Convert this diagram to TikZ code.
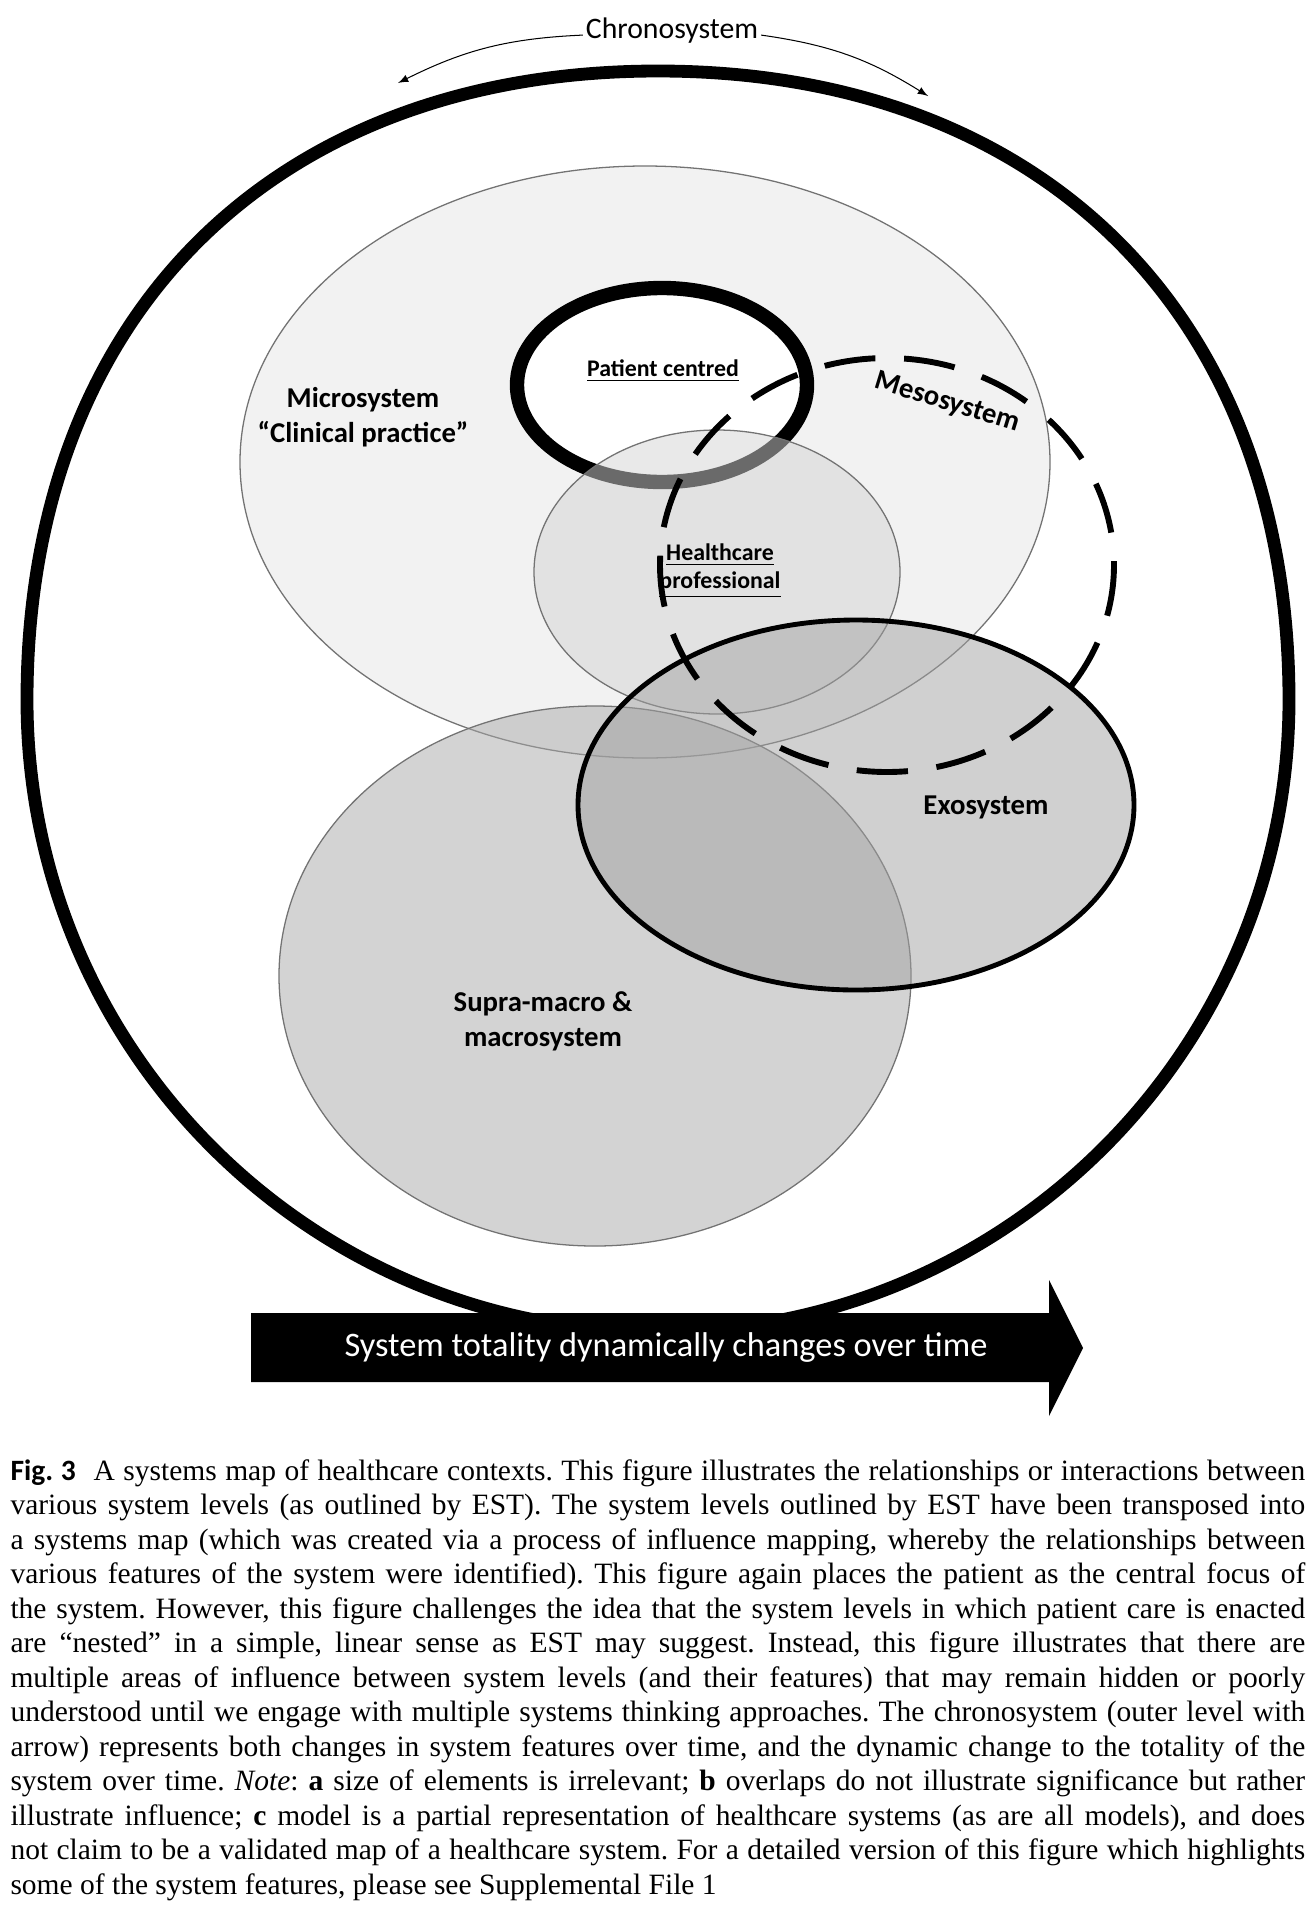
\documentclass[tikz,border=0pt]{standalone}
\usepackage{fontspec}
\setmainfont{Liberation Serif}
\setsansfont{Carlito}
\usetikzlibrary{arrows}

\tikzset{
  zone/.style={draw=black!55, line width=0.5pt, fill opacity=0.5},
  lbl/.style={font=\sffamily\bfseries\fontsize{11.2}{13.6}\selectfont, align=center, inner sep=1pt},
  core/.style={font=\sffamily\bfseries\fontsize{9.3}{10.9}\selectfont, align=center, inner sep=1pt},
}

\begin{document}
\begin{tikzpicture}[x=0.013699cm, y=-0.013699cm]
  \useasboundingbox (0,0) rectangle (1314,1908);
%  \draw[help lines, step=100] (0,0) grid (1314,1908);

  % chronosystem (outer level)
  \draw[line width=5pt, line join=round] (27,700) .. controls (27,316) and (273,71) .. (658,71)
     .. controls (1043,71) and (1289,316) .. (1289,700)
     .. controls (1289,1049) and (1007,1332) .. (658,1332)
     .. controls (309,1332) and (27,1049) .. cycle;

  \filldraw[zone, fill=black!10] (645,462) ellipse [x radius=405, y radius=296];
  \draw[line width=5.6pt, fill=white] (662,385) ellipse [x radius=145, y radius=97];
  \filldraw[zone, fill=black!17] (717,572) ellipse [x radius=183, y radius=142];
  \filldraw[zone, fill=black!34] (595,976) ellipse [x radius=316, y radius=270];
  \filldraw[zone, fill=black!37, draw=black, line width=1.9pt] (856,805) ellipse [x radius=278, y radius=185];

  % mesosystem
  \draw[line width=2.3pt, dash pattern=on 20pt off 11.2pt] (887,565) ellipse [x radius=227, y radius=207];

  \node[font=\sffamily\fontsize{11.6}{14}\selectfont, inner sep=1pt] (chrono) at (672,31) {Chronosystem};
  \coordinate (pastend) at (398,83);
  \coordinate (futureend) at (928,96);
  \draw[-latex, thin] ([yshift=1.5pt]chrono.base west) to[bend right=12] (pastend);
  \draw[-latex, thin] ([yshift=1.5pt]chrono.base east) to[bend left=12] (futureend);

  \node[lbl] (micro) at (363,417) {Microsystem\\“Clinical practice”};
  \node[core] (patient) at (663,371) {\underline{Patient centred}};
  \node[core] (hcp) at (720,571) {\underline{Healthcare}\\\underline{professional}};
  \node[lbl, rotate=-17] (meso) at (947,403) {Mesosystem};
  \node[lbl] (exo) at (986,807) {Exosystem};
  \node[lbl] (supra) at (543,1021) {Supra-macro \&\\macrosystem};

  % time arrow
  \fill (251,1313) -- (1049,1313) -- (1049,1280) -- (1083,1348) -- (1049,1416)
     -- (1049,1382) -- (251,1382) -- cycle;
  \node[text=white, font=\sffamily\fontsize{13.4}{15}\selectfont] (totality) at (666,1348)
     {System totality dynamically changes over time};

  \node[anchor=north west, inner sep=0pt, text width=17.74cm, align=justify,
        font=\fontsize{11.5}{13.45}\selectfont\frenchspacing] (caption) at (10,1459)
     {{\sffamily\bfseries Fig.~3}\hspace{7pt}A systems map of healthcare contexts. This figure illustrates the relationships or interactions between\linebreak
      various system levels (as outlined by EST). The system levels outlined by EST have been transposed into\linebreak
      a systems map (which was created via a process of influence mapping, whereby the relationships between\linebreak
      various features of the system were identified). This figure again places the patient as the central focus of\linebreak
      the system. However, this figure challenges the idea that the system levels in which patient care is enacted\linebreak
      are “nested” in a simple, linear sense as EST may suggest. Instead, this figure illustrates that there are\linebreak
      multiple areas of influence between system levels (and their features) that may remain hidden or poorly\linebreak
      understood until we engage with multiple systems thinking approaches. The chronosystem (outer level with\linebreak
      arrow) represents both changes in system features over time, and the dynamic change to the totality of the\linebreak
      system over time. \textit{Note}: \textbf{a} size of elements is irrelevant; \textbf{b} overlaps do not illustrate significance but rather\linebreak
      illustrate influence; \textbf{c} model is a partial representation of healthcare systems (as are all models), and does\linebreak
      not claim to be a validated map of a healthcare system. For a detailed version of this figure which highlights\linebreak
      some of the system features, please see Supplemental File 1};
\end{tikzpicture}
\end{document}
